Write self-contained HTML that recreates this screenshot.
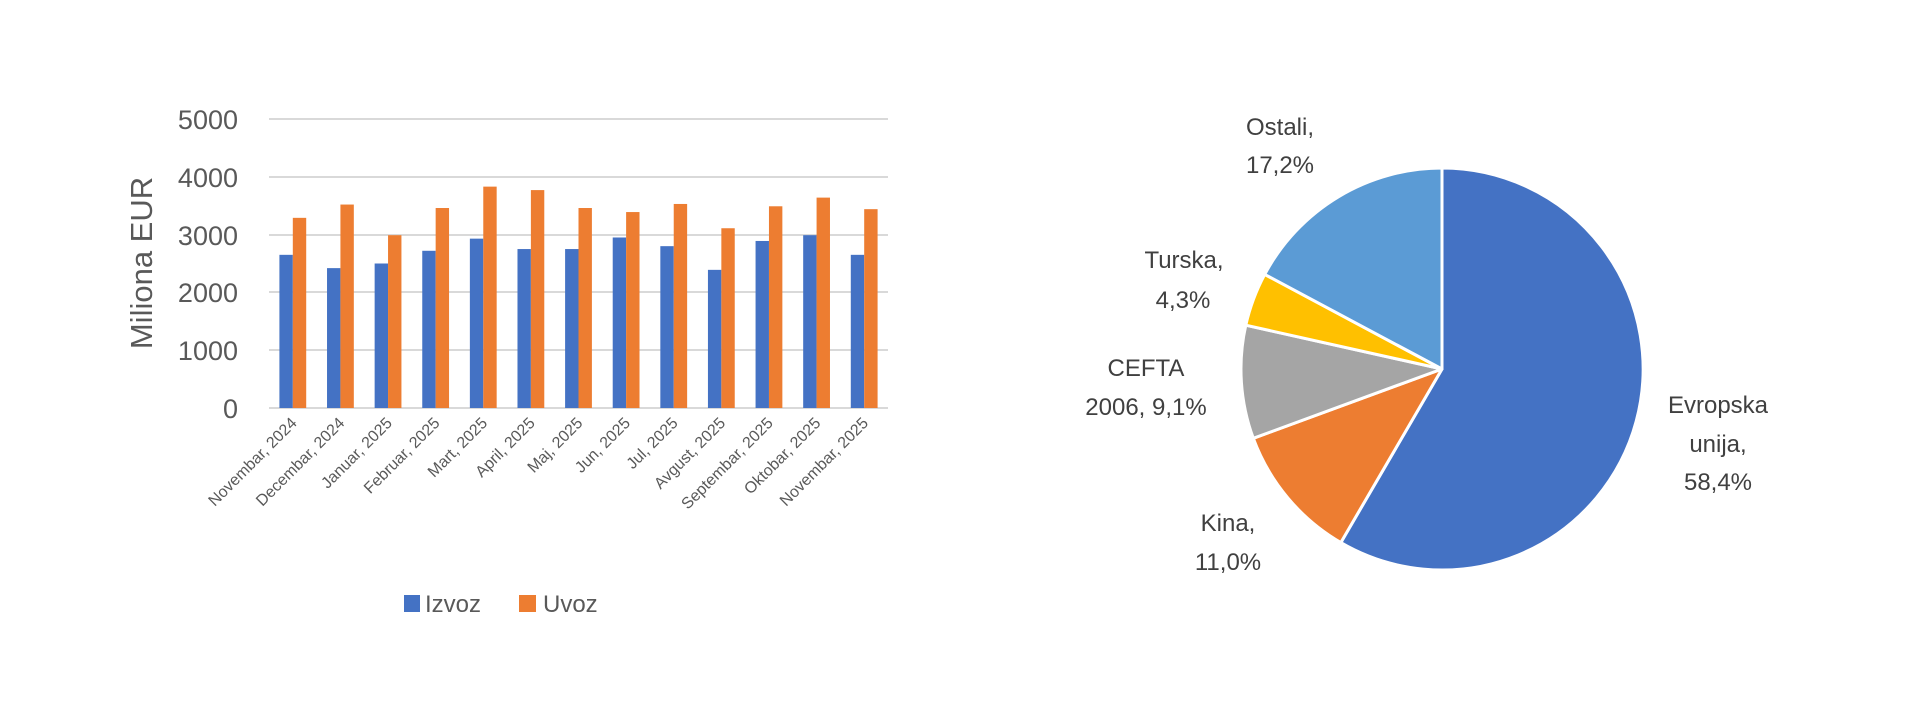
<!DOCTYPE html>
<html><head><meta charset="utf-8"><style>
html,body{margin:0;padding:0;background:#fff;}
svg{display:block;font-family:"Liberation Sans",sans-serif;}
</style></head><body>
<svg width="1920" height="717" viewBox="0 0 1920 717" xmlns="http://www.w3.org/2000/svg">
<rect width="1920" height="717" fill="#fff"/>
<g stroke="#d9d9d9" stroke-width="2">
<line x1="269" y1="119" x2="888" y2="119"/>
<line x1="269" y1="177" x2="888" y2="177"/>
<line x1="269" y1="235" x2="888" y2="235"/>
<line x1="269" y1="292" x2="888" y2="292"/>
<line x1="269" y1="350" x2="888" y2="350"/>
<line x1="269" y1="408" x2="888" y2="408"/>
</g>
<g fill="#595959" font-size="27" text-anchor="end">
<text x="238" y="129">5000</text>
<text x="238" y="187">4000</text>
<text x="238" y="245">3000</text>
<text x="238" y="302">2000</text>
<text x="238" y="360">1000</text>
<text x="238" y="418">0</text>
</g>
<text transform="translate(152,263) rotate(-90)" text-anchor="middle" fill="#595959" font-size="31">Miliona EUR</text>
<g id="bars"></g>
<g id="xl" fill="#595959" font-size="16" text-anchor="end"></g>
<rect x="404" y="595" width="16" height="17" fill="#4472c4"/>
<text x="425" y="612" fill="#595959" font-size="24">Izvoz</text>
<rect x="519" y="595" width="17" height="17" fill="#ed7d31"/>
<text x="543" y="612" fill="#595959" font-size="24">Uvoz</text>
<g stroke="#fff" stroke-width="3" stroke-linejoin="round">
<path d="M1442 369 L1442 168 A201 201 0 1 1 1340.8 542.6 Z" fill="#4472c4"/>
<path d="M1442 369 L1340.8 542.6 A201 201 0 0 1 1253.3 438.3 Z" fill="#ed7d31"/>
<path d="M1442 369 L1253.3 438.3 A201 201 0 0 1 1245.8 325.2 Z" fill="#a5a5a5"/>
<path d="M1442 369 L1245.8 325.2 A201 201 0 0 1 1264.7 274.4 Z" fill="#ffc000"/>
<path d="M1442 369 L1264.7 274.4 A201 201 0 0 1 1442 168 Z" fill="#5b9bd5"/>
</g>
<g fill="#404040" font-size="24" text-anchor="middle">
<text x="1280" y="135">Ostali,</text>
<text x="1280" y="173">17,2%</text>
<text x="1184" y="268">Turska,</text>
<text x="1183" y="308">4,3%</text>
<text x="1146" y="376">CEFTA</text>
<text x="1146" y="415">2006, 9,1%</text>
<text x="1228" y="531">Kina,</text>
<text x="1228" y="570">11,0%</text>
<text x="1718" y="413">Evropska</text>
<text x="1718" y="452">unija,</text>
<text x="1718" y="490">58,4%</text>
</g>
<script>
var iz=[2650,2420,2500,2720,2930,2750,2750,2950,2800,2390,2890,2990,2650];
var uv=[3290,3520,2990,3460,3830,3770,3460,3390,3530,3110,3490,3640,3440];
var lab=["Novembar, 2024","Decembar, 2024","Januar, 2025","Februar, 2025","Mart, 2025","April, 2025","Maj, 2025","Jun, 2025","Jul, 2025","Avgust, 2025","Septembar, 2025","Oktobar, 2025","Novembar, 2025"];
var ns="http://www.w3.org/2000/svg",b=document.getElementById("bars"),xl=document.getElementById("xl");
var cw=(888-269)/13,sc=(408-119)/5000;
for(var i=0;i<13;i++){var c=269+cw*(i+0.5);
function r(x,v,col){var e=document.createElementNS(ns,"rect");e.setAttribute("x",x);e.setAttribute("width",13.4);e.setAttribute("y",408-v*sc);e.setAttribute("height",v*sc);e.setAttribute("fill",col);b.appendChild(e);}
r(c-13.4,iz[i],"#4472c4");r(c,uv[i],"#ed7d31");
var t=document.createElementNS(ns,"text");t.setAttribute("transform","translate("+(c+5)+",424) rotate(-45)");t.textContent=lab[i];xl.appendChild(t);}
</script>
</svg>
</body></html>
